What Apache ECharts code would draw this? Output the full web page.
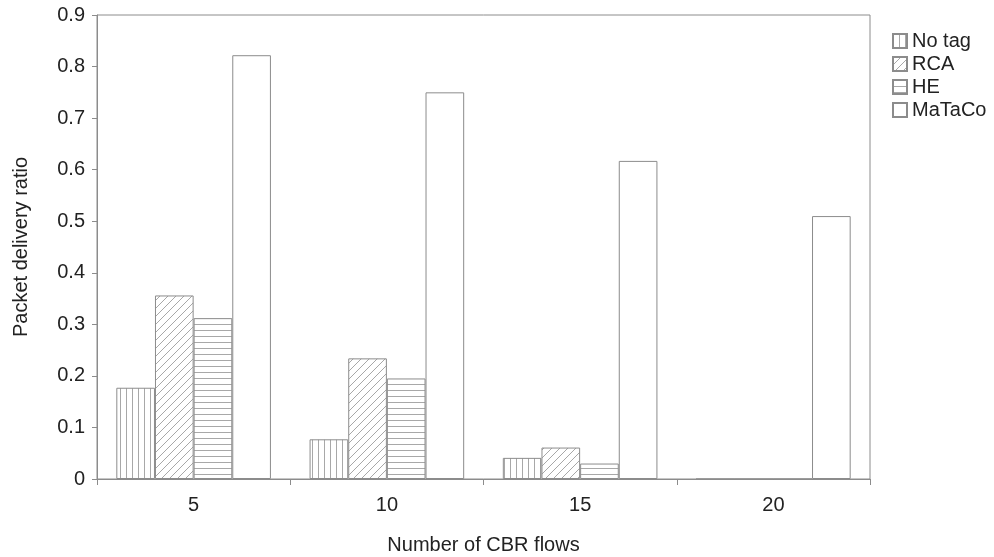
<!DOCTYPE html>
<html>
<head>
<meta charset="utf-8">
<script src="https://cdn.jsdelivr.net/npm/echarts@6/dist/echarts.min.js"></script>
<style>
  html, body { margin: 0; padding: 0; background: #fff; }
  #chart { width: 994px; height: 557px; }
</style>
</head>
<body>
<div id="chart"></div>
<script>
// Packet delivery ratio per scheme vs. number of CBR flows
const categories = ['5', '10', '15', '20'];
const seriesNames = ['No tag', 'RCA', 'HE', 'MaTaCo'];
const noTag  = [0.177, 0.077, 0.041, 0];
const rca    = [0.356, 0.234, 0.061, 0];
const he     = [0.312, 0.195, 0.030, 0];
const mataco = [0.822, 0.750, 0.617, 0.510];
const yTicks = { min: 0, max: 0.9, interval: 0.1 };

const lineColor = '#8c8c8c';
const hatchColor = '#a8a8a8';
const textColor = '#222';
const fontFamily = '"Liberation Sans", Arial, sans-serif';

// Hatch fill patterns drawn on small tiles
function makeTile(kind) {
  const s = kind === 'diag' ? 8 : 6;
  const c = document.createElement('canvas');
  c.width = s; c.height = s;
  const ctx = c.getContext('2d');
  ctx.fillStyle = '#fff';
  ctx.fillRect(0, 0, s, s);
  ctx.strokeStyle = hatchColor;
  ctx.lineWidth = 1;
  ctx.beginPath();
  if (kind === 'vert') {
    ctx.moveTo(0.5, 0); ctx.lineTo(0.5, s);
  } else if (kind === 'horz') {
    ctx.moveTo(0, 0.5); ctx.lineTo(s, 0.5);
  } else if (kind === 'diag') {
    ctx.moveTo(0, s); ctx.lineTo(s, 0);
    ctx.moveTo(-1, 1); ctx.lineTo(1, -1);
    ctx.moveTo(s - 1, s + 1); ctx.lineTo(s + 1, s - 1);
  }
  ctx.stroke();
  return c;
}

const fills = [
  { image: makeTile('vert'), repeat: 'repeat' },
  { image: makeTile('diag'), repeat: 'repeat' },
  { image: makeTile('horz'), repeat: 'repeat' },
  '#ffffff'
];

const values = [noTag, rca, he, mataco];

const chart = echarts.init(document.getElementById('chart'), null, { renderer: 'canvas' });

chart.setOption({
  animation: false,
  backgroundColor: '#fff',
  textStyle: { fontFamily: fontFamily },
  grid: {
    left: 97, right: 124, top: 15, bottom: 78,
    containLabel: false,
    outerBoundsMode: 'none',
    show: true, borderColor: lineColor, borderWidth: 1
  },
  legend: {
    orient: 'vertical',
    left: 887, top: 26,
    itemWidth: 14, itemHeight: 14, itemGap: 3,
    icon: 'rect',
    data: seriesNames,
    textStyle: { fontSize: 20, color: textColor, fontFamily: fontFamily }
  },
  xAxis: {
    type: 'category',
    data: categories,
    name: 'Number of CBR flows',
    nameLocation: 'middle',
    nameGap: 56,
    nameTextStyle: { fontSize: 20, color: textColor },
    axisLine: { lineStyle: { color: lineColor } },
    axisTick: { show: true, length: 6, lineStyle: { color: lineColor } },
    axisLabel: { fontSize: 20, color: textColor, margin: 16 }
  },
  yAxis: {
    type: 'value',
    min: yTicks.min, max: yTicks.max, interval: yTicks.interval,
    name: 'Packet delivery ratio',
    nameLocation: 'middle',
    nameGap: 66,
    nameTextStyle: { fontSize: 20, color: textColor },
    axisLine: { show: true, lineStyle: { color: lineColor } },
    axisTick: { show: true, length: 5, lineStyle: { color: lineColor } },
    splitLine: { show: false },
    axisLabel: { fontSize: 20, color: textColor, margin: 12 }
  },
  series: seriesNames.map((name, i) => ({
    name: name,
    type: 'bar',
    data: values[i],
    barGap: '0%',
    barCategoryGap: '20%',
    itemStyle: {
      color: fills[i],
      borderColor: lineColor,
      borderWidth: 1
    },
    emphasis: { disabled: true }
  }))
});
</script>
</body>
</html>
